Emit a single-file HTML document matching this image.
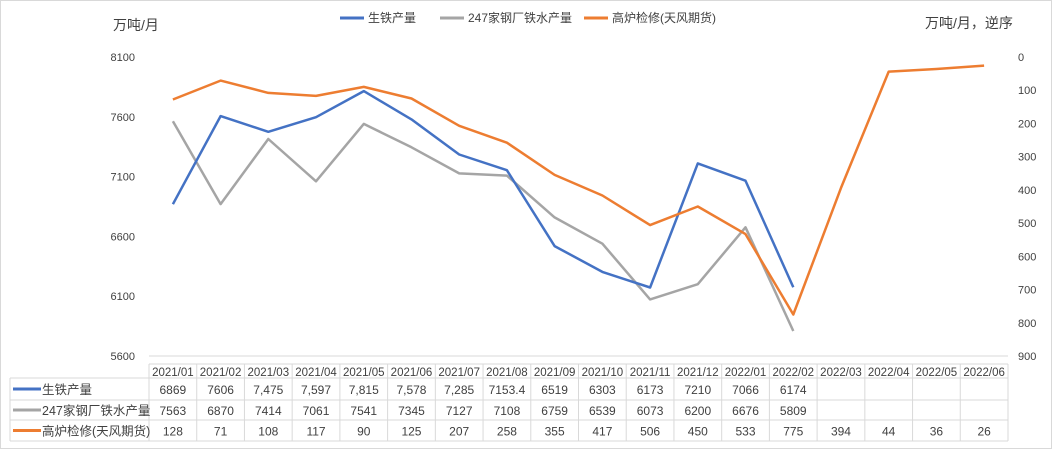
<!DOCTYPE html>
<html><head><meta charset="utf-8"><style>
body{margin:0;background:#fff;font-family:"Liberation Sans","Noto Sans CJK SC",sans-serif}
svg text{font-family:"Liberation Sans","Noto Sans CJK SC",sans-serif;fill:#404040}
</style></head><body>
<svg width="1055" height="450" xmlns="http://www.w3.org/2000/svg">
<rect x="0.5" y="0.5" width="1051" height="448" fill="#fff" stroke="#d9d9d9"/>
<text x="113" y="30" font-size="14">万吨/月</text>
<text x="925" y="28" font-size="14">万吨/月，逆序</text>
<g id="legend"></g>
<g id="axes"></g><g id="series"></g><g id="table"></g>
</svg>
<script>
const categories=["2021/01","2021/02","2021/03","2021/04","2021/05","2021/06","2021/07","2021/08","2021/09","2021/10","2021/11","2021/12","2022/01","2022/02","2022/03","2022/04","2022/05","2022/06"];
const pigIron=[6869,7606,7475,7597,7815,7578,7285,7153.4,6519,6303,6173,7210,7066,6174,null,null,null,null];
const pigIronLabels=["6869","7606","7,475","7,597","7,815","7,578","7,285","7153.4","6519","6303","6173","7210","7066","6174","","","",""];
const mills247=[7563,6870,7414,7061,7541,7345,7127,7108,6759,6539,6073,6200,6676,5809,null,null,null,null];
const maintenance=[128,71,108,117,90,125,207,258,355,417,506,450,533,775,394,44,36,26];
const leftTicks=[5600,6100,6600,7100,7600,8100];
const rightTicks=[0,100,200,300,400,500,600,700,800,900];
const NS="http://www.w3.org/2000/svg";
const X0=149,X1=1008,YT=57,YB=356;
const cw=(X1-X0)/categories.length;
const xc=i=>X0+cw*(i+0.5);
const yl=v=>YB-(v-5600)/(8100-5600)*(YB-YT);
const yr=v=>YT+v/900*(YB-YT);
function mk(tag,attrs,parent,text){const e=document.createElementNS(NS,tag);for(const k in attrs)e.setAttribute(k,attrs[k]);if(text!==undefined)e.textContent=text;parent.appendChild(e);return e;}
const axes=document.getElementById('axes');
const ax=mk('line',{x1:X0,x2:X1,y1:YB,y2:YB,stroke:'#d9d9d9'},axes);


leftTicks.forEach(v=>{const t=mk('text',{x:135,y:yl(v)+4,'font-size':11,'text-anchor':'end'},axes,v);

});
rightTicks.forEach(v=>{const t=mk('text',{x:1018,y:yr(v)+4,'font-size':11},axes,v);

});
const series=document.getElementById('series');
function line(vals,fy,color,name){let d='';vals.forEach((v,i)=>{if(v==null)return;d+=(d?'L':'M')+xc(i).toFixed(1)+','+fy(v).toFixed(1);});
const p=mk('path',{d:d,fill:'none',stroke:color,'stroke-width':2.5,'stroke-linejoin':'round'},series);

}
line(mills247,yl,'#a5a5a5','series-247-mills');
line(pigIron,yl,'#4472c4','series-pig-iron');
line(maintenance,yr,'#ed7d31','series-maintenance');
// legend
const lg=document.getElementById('legend');
[["生铁产量","#4472c4",340],["247家钢厂铁水产量","#a5a5a5",440],["高炉检修(天风期货)","#ed7d31",584]].forEach(([n,c,x])=>{
mk('line',{x1:x,x2:x+24,y1:18,y2:18,stroke:c,'stroke-width':3},lg);
const t=mk('text',{x:x+28,y:22,'font-size':12},lg,n);

});
// table
const tb=document.getElementById('table');
const rows=[364,378,400,420,441];
const g='#d9d9d9';
mk('line',{x1:X0,x2:X1,y1:364,y2:364,stroke:g},tb);
for(let r=1;r<rows.length;r++)mk('line',{x1:10,x2:X1,y1:rows[r],y2:rows[r],stroke:g},tb);
mk('line',{x1:10,x2:10,y1:378,y2:441,stroke:g},tb);
for(let i=0;i<=categories.length;i++)mk('line',{x1:X0+cw*i,x2:X0+cw*i,y1:364,y2:441,stroke:g},tb);
categories.forEach((c,i)=>{const t=mk('text',{x:xc(i),y:376,'font-size':11.5,'text-anchor':'middle'},tb,c);

});
const rowData=[["生铁产量","#4472c4",pigIronLabels],["247家钢厂铁水产量","#a5a5a5",mills247.map(v=>v==null?"":String(v))],["高炉检修(天风期货)","#ed7d31",maintenance.map(String)]];
rowData.forEach(([n,c,vals],r)=>{const cy=(rows[r+1]+rows[r+2])/2;
mk('line',{x1:13,x2:41,y1:cy,y2:cy,stroke:c,'stroke-width':3},tb);
const t=mk('text',{x:42,y:cy+5,'font-size':12.5},tb,n);


vals.forEach((v,i)=>{const tv=mk('text',{x:xc(i),y:cy+5,'font-size':12,'text-anchor':'middle'},tb,v);

});});
</script>
</body></html>
